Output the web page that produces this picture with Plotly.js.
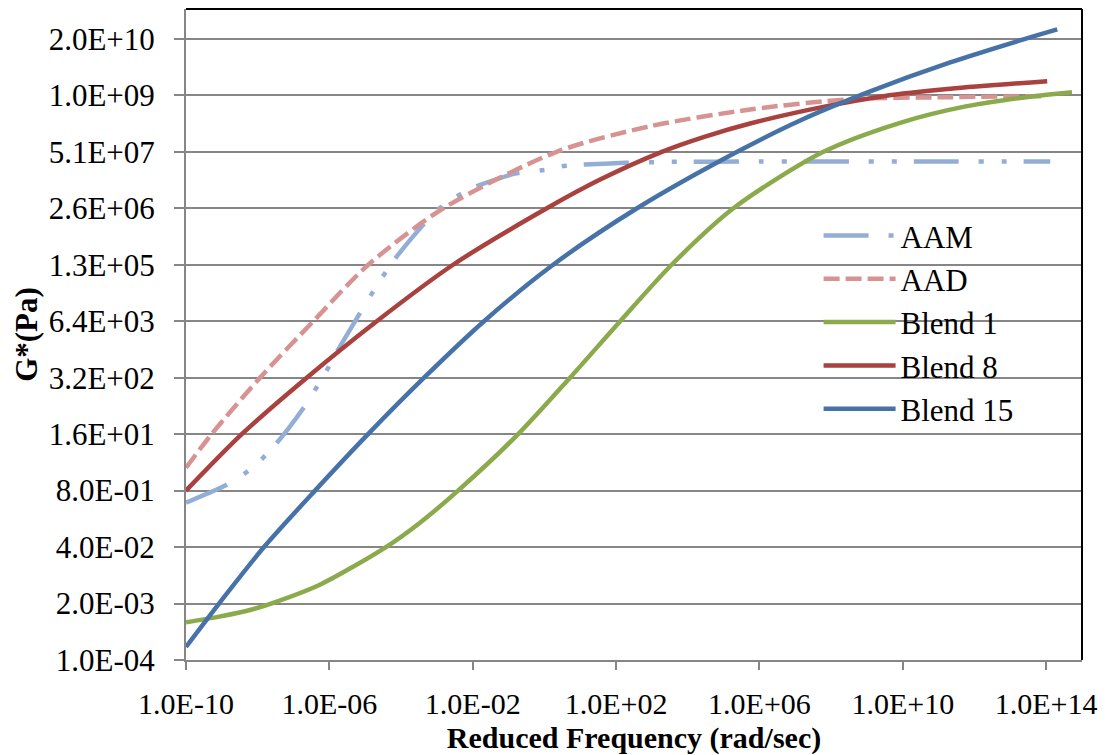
<!DOCTYPE html>
<html>
<head>
<meta charset="utf-8">
<script src="https://cdn.plot.ly/plotly-3.0.1.min.js"></script>
<style>html,body{margin:0;padding:0;background:#fff;}#chart{width:1105px;height:755px;}</style>
</head>
<body>
<div id="chart"></div>
<script>
// Reduced frequency (rad/sec) and G* (Pa)
const aamFreq = [1e-10, 1.08e-9, 3.9e-9, 1.24e-8, 3.4e-8, 1.69e-7, 3.7e-7, 8.1e-7, 1.75e-6, 6.3e-6, 1.36e-5, 2.95e-5, 6.8e-5, 3.8e-4, 9.9e-4, 3.4e-3, 1.16e-2, 1.52e-1, 1.25, 2.9, 12, 1.8e2, 3.2e3, 5.5e5, 3.4e8, 2.1e11, 1.3e14];
const aamG    = [0.42, 0.99, 1.85, 4.1, 9.95, 56, 152, 440, 1410, 8260, 2.35e4, 6.5e4, 1.77e5, 9.8e5, 2.26e6, 4.7e6, 8.0e6, 1.61e7, 2.0e7, 2.38e7, 2.6e7, 2.85e7, 3.0e7, 3.05e7, 3.05e7, 3.05e7, 3.05e7];

const aadFreq = [1e-10, 5.2e-10, 1.16e-8, 3.57e-7, 1.22e-5, 1.52e-3, 2.2, 8.9e2, 5.5e5, 3.4e8, 2.1e11, 1e14];
const aadG    = [2.7, 16, 320, 6400, 1.28e5, 2.56e6, 5.12e7, 1.99e8, 4.83e8, 8.36e8, 9.3e8, 9.8e8];

const blend1Freq = [1e-10, 8.5e-10, 7.3e-9, 2.36e-8, 5.25e-7, 3.8e-5, 3.24e-4, 3.9e-3, 0.185, 5.2, 1.3e2, 3.55e3, 1.88e5, 6.1e7, 8.45e9, 6.15e11, 4.45e13, 5.25e14];
const blend1G    = [7.4e-4, 1.0e-3, 1.48e-3, 2.0e-3, 5.37e-3, 4.0e-2, 0.142, 0.8, 16, 320, 6400, 1.28e5, 2.56e6, 5.12e7, 2.39e8, 5.77e8, 9.8e8, 1.21e9];

const blend8Freq = [1e-10, 3.6e-9, 2.34e-7, 2.1e-5, 2.83e-3, 1.17, 35.9, 1.89e3, 3.05e4, 5.5e5, 7.6e7, 2.89e9, 2.1e11, 1.07e14];
const blend8G    = [0.8, 16, 320, 6400, 1.28e5, 2.56e6, 1.175e7, 5.12e7, 1.15e8, 2.3e8, 5.77e8, 9.8e8, 1.45e9, 2.17e9];

const blend15Freq = [1e-10, 8.34e-10, 1.5e-8, 3.98e-7, 1.2e-5, 4.39e-4, 2.07e-2, 1.75, 3.86e2, 2.39e5, 1.37e7, 1.23e9, 2.1e11, 2.6e13, 2.04e14];
const blend15G    = [2.0e-4, 2.0e-3, 4.0e-2, 0.8, 16, 320, 6400, 1.28e5, 2.56e6, 5.12e7, 2.7e8, 1.26e9, 5.86e9, 2.05e10, 3.39e10];

const xTickVals = [1e-10, 1e-6, 1e-2, 1e2, 1e6, 1e10, 1e14];
const xTickText = ['1.0E-10', '1.0E-06', '1.0E-02', '1.0E+02', '1.0E+06', '1.0E+10', '1.0E+14'];
const yTickVals = [1e-4, 2e-3, 4e-2, 0.8, 16, 320, 6400, 128000, 2560000, 51200000, 1024000000, 20480000000];
const yTickText = ['1.0E-04', '2.0E-03', '4.0E-02', '8.0E-01', '1.6E+01', '3.2E+02', '6.4E+03', '1.3E+05', '2.6E+06', '5.1E+07', '1.0E+09', '2.0E+10'];

const FONT = "'Liberation Serif', 'Times New Roman', serif";
const FS = 31;
const lw = 4.5;

const traces = [
  {x: aamFreq, y: aamG, name: 'AAM', legendgroup: 'a', line: {color: '#93AED6', width: lw, dash: '45px,20px,5px,18px,5px,17px', shape: 'spline', smoothing: 0.6}},
  {x: aadFreq, y: aadG, name: 'AAD', legendgroup: 'b', line: {color: '#D69391', width: lw, dash: '16px,6px', shape: 'spline', smoothing: 0.8}},
  {x: blend1Freq, y: blend1G, name: 'Blend 1', legendgroup: 'c', line: {color: '#8BAA4B', width: lw, shape: 'spline', smoothing: 0.8}},
  {x: blend8Freq, y: blend8G, name: 'Blend 8', legendgroup: 'd', line: {color: '#A9413E', width: lw, shape: 'spline', smoothing: 0.8}},
  {x: blend15Freq, y: blend15G, name: 'Blend 15', legendgroup: 'e', line: {color: '#4672A8', width: lw, shape: 'spline', smoothing: 0.8}}
].map(t => Object.assign({type: 'scatter', mode: 'lines', hoverinfo: 'skip'}, t));

const layout = {
  width: 1105, height: 755,
  margin: {l: 186, r: 23, t: 9, b: 95, pad: 0},
  paper_bgcolor: '#ffffff', plot_bgcolor: '#ffffff',
  font: {family: FONT, size: FS, color: '#000'},
  showlegend: true,
  legend: {
    x: 0.706, y: 0.693, xanchor: 'left', yanchor: 'top',
    bgcolor: 'rgba(0,0,0,0)', borderwidth: 0,
    font: {family: FONT, size: FS, color: '#000'},
    itemwidth: 72, tracegroupgap: 4, traceorder: 'normal'
  },
  xaxis: {
    type: 'log', range: [-10, 15],
    tickvals: xTickVals, ticktext: xTickText,
    showgrid: false, zeroline: false,
    showline: true, linecolor: '#868686', linewidth: 2,
    ticks: 'outside', ticklen: 8, tickwidth: 2, tickcolor: '#868686',
    ticklabelstandoff: 8,
    tickfont: {family: FONT, size: 30, color: '#000'},
    title: {text: '<b>Reduced Frequency (rad/sec)</b>', font: {family: FONT, size: 30, color: '#000'}, standoff: 10}
  },
  yaxis: {
    type: 'log', range: [-4, 11],
    tickvals: yTickVals, ticktext: yTickText,
    showgrid: true, gridcolor: '#868686', gridwidth: 2,
    zeroline: false,
    showline: true, linecolor: '#868686', linewidth: 2,
    ticks: 'outside', ticklen: 10, tickwidth: 2, tickcolor: '#868686',
    ticklabelstandoff: 13,
    tickfont: {family: FONT, size: FS, color: '#000'},
    title: {text: '<b>G*(Pa)</b>', font: {family: FONT, size: FS, color: '#000'}, standoff: 2}
  },
  shapes: [
    {type: 'line', xref: 'paper', yref: 'paper', x0: 0, x1: 1, y0: 1, y1: 1, line: {color: '#000', width: 2}},
    {type: 'line', xref: 'paper', yref: 'paper', x0: 1, x1: 1, y0: 0, y1: 1, line: {color: '#000', width: 2}}
  ]
};

Plotly.newPlot('chart', traces, layout, {staticPlot: true, displayModeBar: false});
</script>
</body>
</html>
